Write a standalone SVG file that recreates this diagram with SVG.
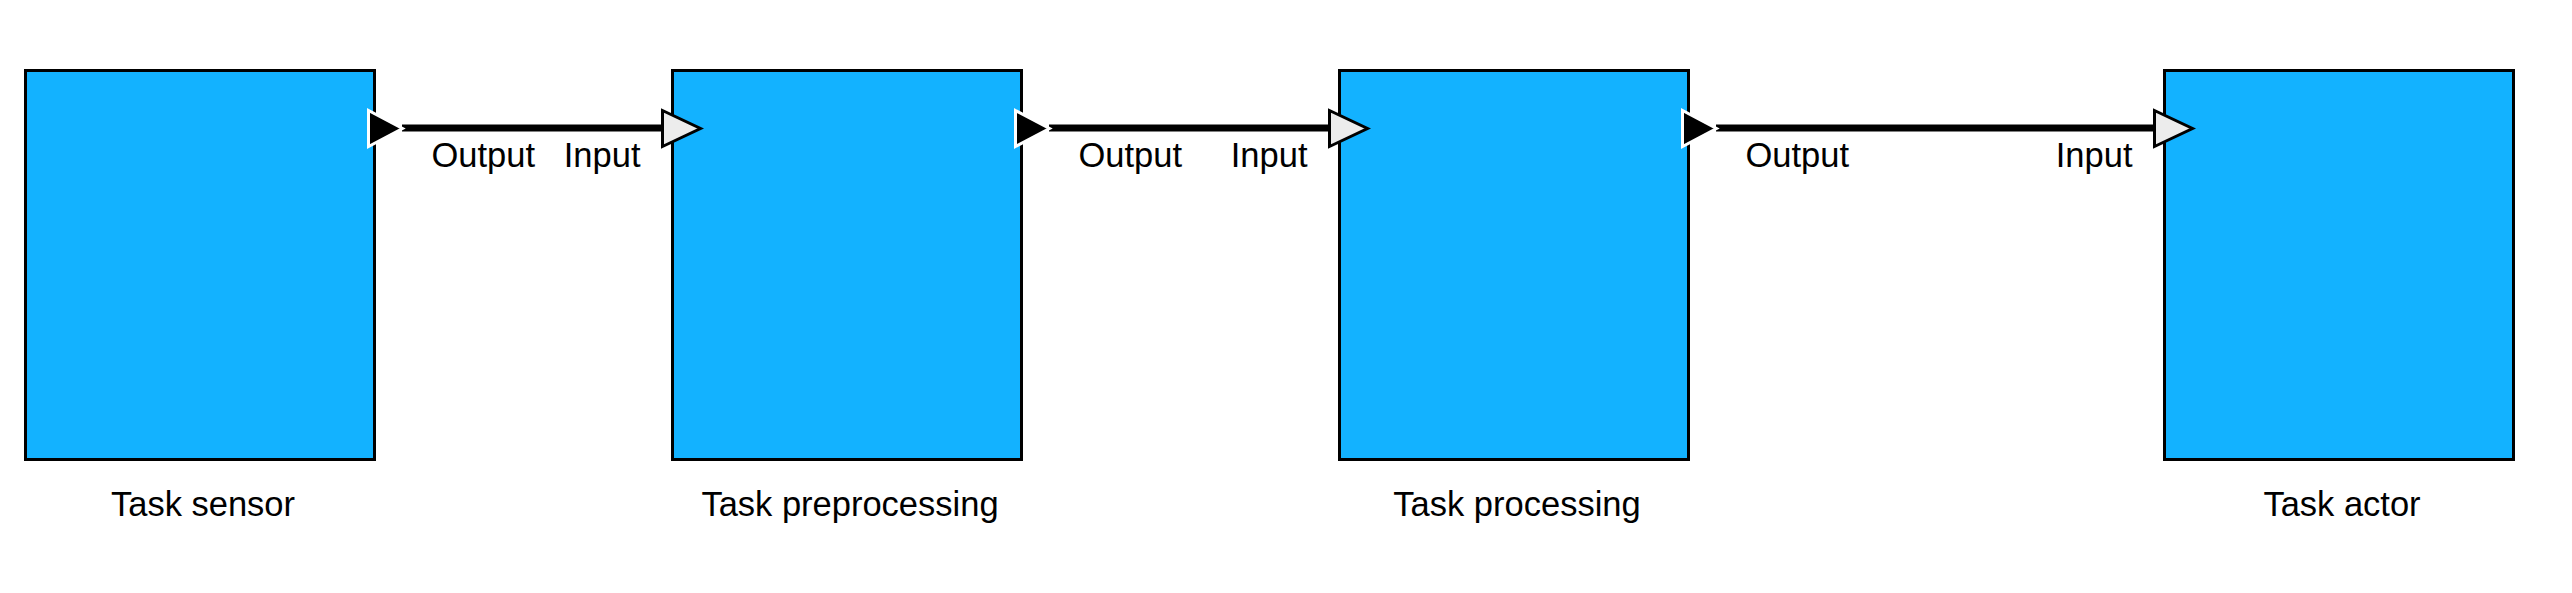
<svg xmlns="http://www.w3.org/2000/svg" width="2572" height="593" viewBox="0 0 2572 593">
<style>
.box{fill:#13b2ff;stroke:#000;stroke-width:3}
.lbl{font-family:"Liberation Sans",Arial,sans-serif;font-size:34.5px;fill:#000}
.title{text-anchor:middle}
.in{text-anchor:end}
.wire{stroke:#000;stroke-width:7;fill:none}
.outp{fill:#000;stroke:#fff;stroke-width:3;stroke-linejoin:miter}
.inp{fill:#ececec;stroke:#000;stroke-width:3;stroke-linejoin:miter}
</style>
<rect width="2572" height="593" fill="#fff"/>
<g id="node-sensor">
<rect class="box" x="25.5" y="70.5" width="349" height="389"/>
<text class="lbl title" x="203" y="516">Task sensor</text>
</g>
<g id="node-preprocessing">
<rect class="box" x="672.5" y="70.5" width="349" height="389"/>
<text class="lbl title" x="850" y="516">Task preprocessing</text>
</g>
<g id="node-processing">
<rect class="box" x="1339.5" y="70.5" width="349" height="389"/>
<text class="lbl title" x="1517" y="516">Task processing</text>
</g>
<g id="node-actor">
<rect class="box" x="2164.5" y="70.5" width="349" height="389"/>
<text class="lbl title" x="2342" y="516">Task actor</text>
</g>
<g id="connectors">
<line class="wire" x1="402" y1="128" x2="664" y2="128"/>
<polygon class="outp" points="368.5,110.5 368.5,146.5 402.5,128.5"/>
<polygon class="inp" points="662.5,110.5 662.5,146.5 700.5,128.5"/>
<text class="lbl" x="431.5" y="167">Output</text>
<text class="lbl in" x="640.5" y="167">Input</text>

<line class="wire" x1="1049" y1="128" x2="1331" y2="128"/>
<polygon class="outp" points="1015.5,110.5 1015.5,146.5 1049.5,128.5"/>
<polygon class="inp" points="1329.5,110.5 1329.5,146.5 1367.5,128.5"/>
<text class="lbl" x="1078.5" y="167">Output</text>
<text class="lbl in" x="1307.5" y="167">Input</text>

<line class="wire" x1="1716" y1="128" x2="2156" y2="128"/>
<polygon class="outp" points="1682.5,110.5 1682.5,146.5 1716.5,128.5"/>
<polygon class="inp" points="2154.5,110.5 2154.5,146.5 2192.5,128.5"/>
<text class="lbl" x="1745.5" y="167">Output</text>
<text class="lbl in" x="2132.5" y="167">Input</text>
</g>
</svg>
